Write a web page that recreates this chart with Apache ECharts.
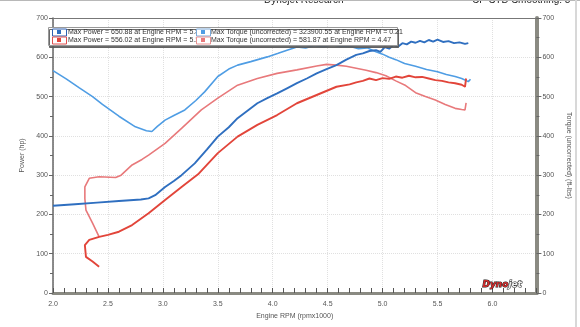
<!DOCTYPE html>
<html>
<head>
<meta charset="utf-8">
<script src="https://cdn.jsdelivr.net/npm/echarts@6/dist/echarts.min.js"></script>
<style>
html,body{margin:0;padding:0;background:#fff;}
#c{width:580px;height:327px;}
</style>
</head>
<body>
<div id="c"></div>
<script>
// ---- data ----
const xTickLabels = ['2.0','2.5','3.0','3.5','4.0','4.5','5.0','5.5','6.0'];
const yTickLabels = ['0','100','200','300','400','500','600','700'];

// Run 1 (blue) - power
const rpmPowerA = [2.0,2.2,2.4,2.6,2.8,2.87,2.93,3.02,3.1,3.17,3.29,3.4,3.5,3.6,3.68,3.77,3.86,3.95,4.04,4.13,4.22,4.31,4.4,4.49,4.58,4.67,4.76,4.82,4.88,4.94,4.98,5.02,5.06,5.1,5.14,5.18,5.22,5.26,5.3,5.34,5.38,5.42,5.46,5.5,5.55,5.6,5.65,5.7,5.75,5.78];
const powerA = [222,226,230,234,238,241,249,270,285,300,330,365,398,422,445,464,483,496,508,521,534,546,559,570,580,594,606,610,616,618,614,626,622,631,627,636,633,640,637,642,638,644,640,645,639,641,636,638,634,636];

// Run 1 (light blue) - torque
const rpmTorqueA = [2.0,2.12,2.24,2.36,2.45,2.6,2.75,2.85,2.9,2.95,3.02,3.1,3.2,3.3,3.38,3.5,3.6,3.68,3.8,3.95,4.05,4.13,4.22,4.3,4.38,4.46,4.54,4.62,4.7,4.78,4.86,4.94,5.0,5.06,5.12,5.2,5.3,5.4,5.5,5.58,5.66,5.72,5.78,5.8];
const torqueA = [566,545,522,500,480,450,423,413,411,424,440,452,466,490,512,551,570,580,589,601,610,618,626,624,630,626,632,627,628,622,624,614,608,600,594,584,577,569,563,556,551,546,538,544];

// Run 2 (red) - power
const rpmPowerB = [2.42,2.36,2.3,2.29,2.33,2.42,2.5,2.6,2.72,2.87,3.02,3.17,3.32,3.5,3.68,3.86,4.04,4.22,4.4,4.58,4.7,4.76,4.82,4.88,4.94,5.0,5.06,5.12,5.18,5.24,5.3,5.36,5.42,5.48,5.54,5.6,5.66,5.72,5.75,5.76];
const powerB = [67,80,92,122,135,143,148,156,173,203,237,270,302,356,398,428,453,483,504,525,531,536,540,546,542,547,545,551,548,553,549,550,546,542,540,536,534,530,525,546];

// Run 2 (light red) - torque
const rpmTorqueB = [2.42,2.36,2.3,2.29,2.29,2.33,2.42,2.57,2.62,2.72,2.81,2.87,3.02,3.17,3.35,3.5,3.68,3.86,4.04,4.22,4.4,4.49,4.58,4.67,4.76,4.85,4.94,5.03,5.12,5.21,5.3,5.39,5.48,5.57,5.66,5.72,5.75,5.76];
const torqueB = [143,178,211,240,270,292,296,294,300,326,340,351,381,419,466,496,529,546,559,568,578,582,580,577,572,567,561,553,540,528,510,500,491,480,470,467,466,484];

const legendRow1 = ['Max Power = 650.88 at Engine RPM = 5.81', 'Max Torque (uncorrected) = 323900.55 at Engine RPM = 0.21'];
const legendRow2 = ['Max Power = 556.02 at Engine RPM = 5.28', 'Max Torque (uncorrected) = 581.87 at Engine RPM = 4.47'];

// ---- styles ----
const C_POW_A = '#2f6fc0', C_TOR_A = '#4f9de4', C_POW_B = '#e2453a', C_TOR_B = '#e8797b';
const AX = '#666', LBL = '#555', FONT = 'Liberation Sans';

function pairs(xs, ys){ return xs.map((x,i)=>[x, ys[i]]); }

const chart = echarts.init(document.getElementById('c'), null, {renderer:'canvas'});

function legendIcon(x, y, border, fill){
  return [
    {type:'rect', left:x, top:y, z:20, shape:{width:14, height:7}, style:{fill:'#fff', stroke:border, lineWidth:1}},
    {type:'rect', left:x+5, top:y+1.5, z:21, shape:{width:4, height:4}, style:{fill:fill}}
  ];
}

const txtStyle = {fontFamily:FONT, fontSize:7, fill:'#333'};

const graphic = [
  {type:'rect', left:0, top:0, z:1, shape:{width:580, height:1}, style:{fill:'#b8b8b8'}},
  {type:'rect', left:575, top:0, z:1, shape:{width:2, height:327}, style:{fill:'#d8d8d8'}},
  {type:'text', left:264, top:-5, style:{text:'Dynojet Research', fontFamily:FONT, fontSize:10, fill:'#222'}},
  {type:'text', left:472, top:-5, style:{text:'CP STD Smoothing: 5', fontFamily:FONT, fontSize:10, fill:'#222'}},
  // legend box
  {type:'rect', left:48, top:27, z:10, shape:{width:349, height:18},
    style:{fill:'#fff', stroke:'#999', lineWidth:1, shadowColor:'rgba(90,90,90,0.9)', shadowOffsetX:1, shadowOffsetY:2, shadowBlur:0}},
  {type:'text', left:68, top:28.5, z:15, style:Object.assign({text:legendRow1[0]}, txtStyle)},
  {type:'text', left:68, top:36.5, z:15, style:Object.assign({text:legendRow2[0]}, txtStyle)},
  {type:'text', left:211, top:28.5, z:15, style:Object.assign({text:legendRow1[1]}, txtStyle)},
  {type:'text', left:211, top:36.5, z:15, style:Object.assign({text:legendRow2[1]}, txtStyle)},
  ...legendIcon(52, 28.5, '#2f5fb0', C_POW_A),
  ...legendIcon(52, 36.5, '#e05050', C_POW_B),
  ...legendIcon(196, 28.5, '#7aa8d8', C_TOR_A),
  ...legendIcon(196, 36.5, '#e89090', C_TOR_B),
  // Dynojet logo
  {type:'text', left:482, top:280, z:20, style:{
    text:'{a|Dyno}{b|jet}',
    rich:{
      a:{fontFamily:'DejaVu Sans', fontWeight:'bold', fontStyle:'italic', fontSize:9, fill:'#d42a2a', stroke:'#222', lineWidth:1},
      b:{fontFamily:'DejaVu Sans', fontWeight:'bold', fontStyle:'italic', fontSize:9, fill:'#eee', stroke:'#222', lineWidth:1}
    }}}
];

const option = {
  backgroundColor:'#fff',
  animation:false,
  grid:{left:53, right:39, top:18, bottom:34},
  graphic: graphic,
  xAxis:[
    {
      type:'value', min:2.0, max:6.4, interval:0.5, position:'bottom',
      name:'Engine RPM (rpmx1000)', nameLocation:'middle', nameGap:18,
      nameTextStyle:{fontFamily:FONT, fontSize:7, color:LBL},
      axisLine:{show:true, lineStyle:{color:'#8a8a82', width:3}},
      axisTick:{show:false},
      axisLabel:{fontFamily:FONT, fontSize:7, color:LBL, margin:8,
        formatter:(v)=>{const s=v.toFixed(1); return xTickLabels.includes(s)?s:'';}},
      splitLine:{show:true, lineStyle:{color:'#e0e0e0', type:'dotted', width:1}}
    },
    {
      type:'value', min:2.0, max:6.4, interval:0.1, position:'bottom',
      axisLine:{show:false}, axisLabel:{show:false}, splitLine:{show:false},
      axisTick:{show:true, inside:true, length:5, lineStyle:{color:'#555', width:1}}
    },
    {
      type:'value', min:2.0, max:6.4, position:'top',
      axisLine:{show:true, lineStyle:{color:'#777', width:1}},
      axisTick:{show:false}, axisLabel:{show:false}, splitLine:{show:false}
    }
  ],
  yAxis:[
    {
      type:'value', min:0, max:700, interval:100, position:'left',
      name:'Power (hp)', nameLocation:'middle', nameGap:20, nameRotate:90,
      nameTextStyle:{fontFamily:FONT, fontSize:7, color:LBL},
      axisLine:{show:true, lineStyle:{color:AX, width:1.5}},
      axisTick:{show:true, inside:false, length:4, lineStyle:{color:AX}},
      minorTick:{show:true, splitNumber:2, length:3, lineStyle:{color:AX}},
      axisLabel:{fontFamily:FONT, fontSize:7, color:LBL, margin:5,
        formatter:(v)=>yTickLabels.includes(String(v))?String(v):''},
      splitLine:{show:true, lineStyle:{color:'#e0e0e0', type:'dotted', width:1}}
    },
    {
      type:'value', min:0, max:700, interval:100, position:'right',
      name:'Torque (uncorrected) (ft-lbs)', nameLocation:'middle', nameGap:22, nameRotate:-90,
      nameTextStyle:{fontFamily:FONT, fontSize:7, color:LBL},
      axisLine:{show:true, lineStyle:{color:'#8a8a82', width:4}},
      axisTick:{show:true, inside:false, length:5, lineStyle:{color:AX}},
      minorTick:{show:true, splitNumber:2, length:3, lineStyle:{color:AX}},
      axisLabel:{fontFamily:FONT, fontSize:7, color:LBL, margin:6,
        formatter:(v)=>yTickLabels.includes(String(v))?String(v):''},
      splitLine:{show:false}
    }
  ],
  series:[
    {name:'Torque A', type:'line', xAxisIndex:0, yAxisIndex:1, data:pairs(rpmTorqueA, torqueA),
      showSymbol:false, lineStyle:{color:C_TOR_A, width:1.6}, itemStyle:{color:C_TOR_A}, z:3},
    {name:'Torque B', type:'line', xAxisIndex:0, yAxisIndex:1, data:pairs(rpmTorqueB, torqueB),
      showSymbol:false, lineStyle:{color:C_TOR_B, width:1.6}, itemStyle:{color:C_TOR_B}, z:3},
    {name:'Power A', type:'line', xAxisIndex:0, yAxisIndex:0, data:pairs(rpmPowerA, powerA),
      showSymbol:false, lineStyle:{color:C_POW_A, width:1.9}, itemStyle:{color:C_POW_A}, z:4},
    {name:'Power B', type:'line', xAxisIndex:0, yAxisIndex:0, data:pairs(rpmPowerB, powerB),
      showSymbol:false, lineStyle:{color:C_POW_B, width:1.9}, itemStyle:{color:C_POW_B}, z:4}
  ]
};
chart.setOption(option);
</script>
</body>
</html>
